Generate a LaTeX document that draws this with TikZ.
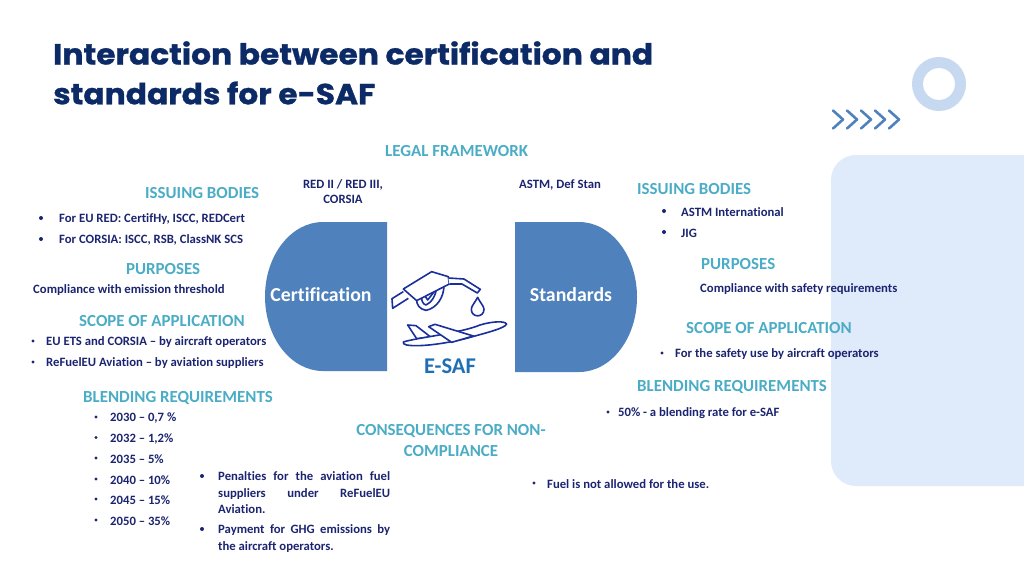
\documentclass[tikz,border=0pt]{standalone}
\usepackage{fontspec}
\setmainfont{Carlito}[Ligatures={TeX,NoCommon}]
\newfontfamily\titlefont{Poppins}[FakeStretch=1.08, FakeBold=1]
\definecolor{titlenavy}{HTML}{0B2A66}
\definecolor{headteal}{HTML}{4BACC6}
\definecolor{listnavy}{HTML}{1B2470}
\definecolor{shapeblue}{HTML}{4F81BD}
\definecolor{safblue}{HTML}{1F6FB5}
\definecolor{panelblue}{HTML}{DFEAFB}
\definecolor{ringblue}{HTML}{C6D9F1}
\definecolor{iconblue}{HTML}{1A2F9C}
\tikzset{
    headtext/.style = {anchor=west, inner sep=0pt, yshift=-1pt, text=headteal, font=\fontsize{16.9}{21}\selectfont\bfseries},
    listtext/.style = {anchor=west, inner sep=0pt, yshift=-1pt, text=listnavy, font=\fontsize{12.7}{16.5}\selectfont\bfseries},
    titletext/.style = {anchor=west, inner sep=0pt, text=titlenavy, font=\fontsize{29}{40}\titlefont\bfseries},
    shapetext/.style = {inner sep=0pt, yshift=-1pt, text=white, font=\fontsize{19.8}{22}\selectfont\bfseries},
    dot/.style = {fill=listnavy},
    iconline/.style = {draw=iconblue, line width=1.6pt, line join=round, fill=white}
}
\begin{document}
\begin{tikzpicture}[x=1pt, y=-1pt]
    \useasboundingbox (0,0) rectangle (1024,576);
    % background shapes
    \fill [panelblue] (1024,155) [rounded corners=25] -- (831,155) -- (831,486) [sharp corners] -- (1024,486) -- cycle;
    \draw [ringblue, line width=11pt] (939,84) circle [radius = 21.5];
    \foreach \i in {0,...,4}
        \draw [shapeblue, line width=2.6pt, line cap=round, line join=round] (833+14*\i,110.5) -- (843+14*\i,119.5) -- (833+14*\i,128.5);
    % title
    \node (title1) [titletext] at (53,53) {Interaction between certification and};
    \node (title2) [titletext] at (53,93) {standards for e-SAF};
    % middle shapes
    \fill [shapeblue] (387,222) -- (323,222) arc [start angle=270, end angle=90, x radius=58, y radius=74.5] -- (387,371) -- cycle;
    \fill [shapeblue] (515,222) -- (579,222) arc [start angle=-90, end angle=90, x radius=58, y radius=75] -- (515,372) -- cycle;
    \node (cert) [shapetext] at (321,294) {Certification};
    \node (stand) [shapetext] at (571,294) {Standards};
    \node (esaf) [inner sep=0pt, text=safblue, font=\fontsize{22.5}{24}\selectfont\bfseries] at (450,366) {E-SAF};
    % fuel nozzle, drop and plane
    \begin{scope}[shift={(260,210)}, x=0.3333pt, y=-0.3333pt]
        \draw [iconline] (430,245) -- (396,266) -- (398,295) -- (445,265);
        \draw [iconline] (470,265) .. controls (468,285) and (480,298) .. (498,301) .. controls (530,295) and (552,262) .. (552,226) -- (530,232) .. controls (528,255) and (515,278) .. (498,285) .. controls (488,282) and (484,272) .. (485,258) -- cycle;
        \draw [iconline] (490,250) -- (503,270) -- (530,236);
        \draw [iconline] (430,237) -- (515,185) -- (565,200) -- (568,222) -- (470,272) -- cycle;
        \draw [iconline] (565,204) -- (612,207) -- (661,238) -- (652,249) -- (606,222) -- (568,222);
        \draw [iconline] (653,262) .. controls (645,278) and (634,288) .. (634,298) .. controls (634,324) and (672,324) .. (672,298) .. controls (672,288) and (660,278) .. (653,262) -- cycle;
        \draw [iconline] (443,345) -- (468,347) -- (512,381) -- (470,386) -- cycle;
        \draw [iconline] (430,396) .. controls (470,383) and (600,370) .. (660,345) .. controls (700,333) and (735,333) .. (740,342) .. controls (735,355) and (680,368) .. (620,385) .. controls (560,400) and (480,412) .. (440,405) .. controls (432,403) and (428,400) .. (430,396) -- cycle;
        \draw [iconline] (506,350) -- (525,343) -- (640,378) -- (575,397) -- cycle;
    \end{scope}
    % top labels
    \node (legal) [headtext] at (385,150) {LEGAL FRAMEWORK};
    \node (redii) [listtext, anchor=center, align=center, font=\fontsize{12.7}{15}\selectfont\bfseries] at (343,190.5) {RED II / RED III,\\CORSIA};
    \node (astm) [listtext] at (519,184) {ASTM, Def Stan};
    % left column
    \node (issuingL) [headtext] at (145,192) {ISSUING BODIES};
    \node (eured) [listtext] at (59,218) {For EU RED: CertifHy, ISCC, REDCert};
    \node (corsia) [listtext] at (59,239) {For CORSIA: ISCC, RSB, ClassNK SCS};
    \fill [dot] (41,218) circle [radius = 2];
    \fill [dot] (41,239) circle [radius = 2];
    \node (purposeL) [headtext] at (126,268) {PURPOSES};
    \node (emission) [listtext] at (33,289) {Compliance with emission threshold};
    \node (scopeL) [headtext] at (79,320) {SCOPE OF APPLICATION};
    \node (euets) [listtext] at (46,341) {EU ETS and CORSIA -- by aircraft operators};
    \node (refuel) [listtext] at (46,362) {ReFuelEU Aviation -- by aviation suppliers};
    \fill [dot] (33,341) circle [radius = 1.6];
    \fill [dot] (33,362) circle [radius = 1.6];
    \node (blendL) [headtext] at (83,397) {BLENDING REQUIREMENTS};
    \foreach \name/\yy/\txt in {a/417/{2030 -- 0,7 \%}, b/437.5/{2032 -- 1,2\%}, c/458/{2035 -- 5\%}, d/479/{2040 -- 10\%}, e/499/{2045 -- 15\%}, f/520/{2050 -- 35\%}} {
        \node (year\name) [listtext] at (110,\yy) {\txt};
        \fill [dot] (96,\yy) circle [radius = 1.6];
    }
    % consequences
    \node (conseq) [headtext, anchor=center, align=center] at (451,439.5) {CONSEQUENCES FOR NON-\\COMPLIANCE};
    \node (penalty) [listtext, anchor=north west, text width=172pt, align=justify] at (218,470.5) {Penalties for the aviation fuel\linebreak suppliers under ReFuelEU\linebreak Aviation.};
    \node (payment) [listtext, anchor=north west, text width=172pt, align=justify] at (218,523.5) {Payment for GHG emissions by\linebreak the aircraft operators.};
    \fill [dot] (202,476) circle [radius = 2];
    \fill [dot] (202,529) circle [radius = 2];
    \node (notallowed) [listtext] at (547,483) {Fuel is not allowed for the use.};
    \fill [dot] (534,483) circle [radius = 1.6];
    % right column
    \node (issuingR) [headtext] at (637,188) {ISSUING BODIES};
    \node (astmint) [listtext] at (681,211) {ASTM International};
    \node (jig) [listtext] at (681,232) {JIG};
    \fill [dot] (664,211) circle [radius = 2];
    \fill [dot] (664,232) circle [radius = 2];
    \node (purposeR) [headtext] at (701,263) {PURPOSES};
    \node (safety) [listtext] at (700,288) {Compliance with safety requirements};
    \node (scopeR) [headtext] at (686,327) {SCOPE OF APPLICATION};
    \node (safeuse) [listtext] at (675,353) {For the safety use by aircraft operators};
    \fill [dot] (662,353) circle [radius = 1.6];
    \node (blendR) [headtext] at (637,386) {BLENDING REQUIREMENTS};
    \node (rate) [listtext] at (618,412) {50\% - a blending rate for e-SAF};
    \fill [dot] (608,412) circle [radius = 1.6];
\end{tikzpicture}
\end{document}
